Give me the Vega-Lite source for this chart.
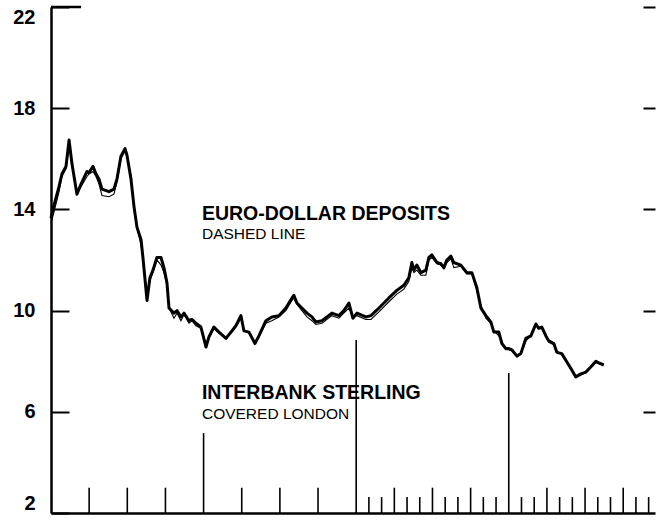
{
  "$schema": "https://vega.github.io/schema/vega-lite/v6.json",
  "width": 604,
  "height": 506,
  "autosize": "none",
  "padding": {"left": 51, "top": 7, "right": 2, "bottom": 9},
  "background": "white",
  "config": {"view": {"stroke": null}, "font": "Liberation Sans"},
  "datasets": {
    "rates": [
      {"t":0,"sterling":13.66,"eurodollar":13.45},
      {"t":0.24,"sterling":14.17,"eurodollar":13.9},
      {"t":0.63,"sterling":14.9,"eurodollar":14.7},
      {"t":0.86,"sterling":15.4,"eurodollar":15.3},
      {"t":1.18,"sterling":15.7,"eurodollar":15.6},
      {"t":1.42,"sterling":16.74,"eurodollar":16.5},
      {"t":1.65,"sterling":15.8,"eurodollar":15.8},
      {"t":2.04,"sterling":14.6,"eurodollar":14.7},
      {"t":2.36,"sterling":15.0,"eurodollar":14.9},
      {"t":2.83,"sterling":15.5,"eurodollar":15.3},
      {"t":2.99,"sterling":15.45,"eurodollar":15.4},
      {"t":3.30,"sterling":15.7,"eurodollar":15.5},
      {"t":3.54,"sterling":15.4,"eurodollar":15.3},
      {"t":3.77,"sterling":15.2,"eurodollar":15.0},
      {"t":4.01,"sterling":14.8,"eurodollar":14.55},
      {"t":4.56,"sterling":14.7,"eurodollar":14.5},
      {"t":4.95,"sterling":14.8,"eurodollar":14.6},
      {"t":5.19,"sterling":15.2,"eurodollar":15.1},
      {"t":5.50,"sterling":16.1,"eurodollar":16.0},
      {"t":5.82,"sterling":16.4,"eurodollar":16.3},
      {"t":5.97,"sterling":16.15,"eurodollar":16.2},
      {"t":6.29,"sterling":15.2,"eurodollar":15.3},
      {"t":6.53,"sterling":14.1,"eurodollar":14.1},
      {"t":6.76,"sterling":13.3,"eurodollar":13.3},
      {"t":7.08,"sterling":12.8,"eurodollar":12.6},
      {"t":7.23,"sterling":12.1,"eurodollar":12.1},
      {"t":7.55,"sterling":10.4,"eurodollar":10.6},
      {"t":7.78,"sterling":11.3,"eurodollar":11.2},
      {"t":8.02,"sterling":11.6,"eurodollar":11.5},
      {"t":8.33,"sterling":12.1,"eurodollar":12.0},
      {"t":8.65,"sterling":12.1,"eurodollar":11.8},
      {"t":8.88,"sterling":11.7,"eurodollar":11.5},
      {"t":9.12,"sterling":11.1,"eurodollar":11.0},
      {"t":9.28,"sterling":10.1,"eurodollar":10.1},
      {"t":9.67,"sterling":9.9,"eurodollar":9.7},
      {"t":9.91,"sterling":10.0,"eurodollar":9.9},
      {"t":10.22,"sterling":9.75,"eurodollar":9.6},
      {"t":10.46,"sterling":9.9,"eurodollar":9.85},
      {"t":10.85,"sterling":9.6,"eurodollar":9.5},
      {"t":11.08,"sterling":9.65,"eurodollar":9.6},
      {"t":11.40,"sterling":9.5,"eurodollar":9.4},
      {"t":11.79,"sterling":9.35,"eurodollar":9.3},
      {"t":12.19,"sterling":8.56,"eurodollar":8.7},
      {"t":12.42,"sterling":8.96,"eurodollar":8.9},
      {"t":12.81,"sterling":9.35,"eurodollar":9.3},
      {"t":13.21,"sterling":9.15,"eurodollar":9.1},
      {"t":13.76,"sterling":8.9,"eurodollar":8.95},
      {"t":14.15,"sterling":9.15,"eurodollar":9.1},
      {"t":14.54,"sterling":9.4,"eurodollar":9.35},
      {"t":14.94,"sterling":9.8,"eurodollar":9.7},
      {"t":15.17,"sterling":9.2,"eurodollar":9.25},
      {"t":15.57,"sterling":9.15,"eurodollar":9.1},
      {"t":16.04,"sterling":8.7,"eurodollar":8.75},
      {"t":16.35,"sterling":9.0,"eurodollar":8.95},
      {"t":16.90,"sterling":9.6,"eurodollar":9.5},
      {"t":17.37,"sterling":9.75,"eurodollar":9.6},
      {"t":17.92,"sterling":9.8,"eurodollar":9.75},
      {"t":18.47,"sterling":10.1,"eurodollar":10.0},
      {"t":18.95,"sterling":10.5,"eurodollar":10.4},
      {"t":19.10,"sterling":10.6,"eurodollar":10.5},
      {"t":19.34,"sterling":10.3,"eurodollar":10.25},
      {"t":19.73,"sterling":10.1,"eurodollar":10.0},
      {"t":20.13,"sterling":9.9,"eurodollar":9.75},
      {"t":20.52,"sterling":9.75,"eurodollar":9.6},
      {"t":20.83,"sterling":9.55,"eurodollar":9.45},
      {"t":21.31,"sterling":9.6,"eurodollar":9.5},
      {"t":22.09,"sterling":9.9,"eurodollar":9.8},
      {"t":22.64,"sterling":9.8,"eurodollar":9.7},
      {"t":23.03,"sterling":10.0,"eurodollar":9.9},
      {"t":23.43,"sterling":10.3,"eurodollar":10.1},
      {"t":23.74,"sterling":9.7,"eurodollar":9.75},
      {"t":24.06,"sterling":9.9,"eurodollar":9.8},
      {"t":24.76,"sterling":9.75,"eurodollar":9.65},
      {"t":25.16,"sterling":9.8,"eurodollar":9.65},
      {"t":25.79,"sterling":10.1,"eurodollar":9.95},
      {"t":26.57,"sterling":10.5,"eurodollar":10.35},
      {"t":27.20,"sterling":10.8,"eurodollar":10.65},
      {"t":27.75,"sterling":11.0,"eurodollar":10.85},
      {"t":28.14,"sterling":11.3,"eurodollar":11.15},
      {"t":28.38,"sterling":11.9,"eurodollar":11.7},
      {"t":28.54,"sterling":11.6,"eurodollar":11.5},
      {"t":28.77,"sterling":11.8,"eurodollar":11.6},
      {"t":29.09,"sterling":11.5,"eurodollar":11.4},
      {"t":29.48,"sterling":11.6,"eurodollar":11.4},
      {"t":29.72,"sterling":12.1,"eurodollar":12.0},
      {"t":29.95,"sterling":12.2,"eurodollar":12.1},
      {"t":30.35,"sterling":11.9,"eurodollar":11.85},
      {"t":30.66,"sterling":11.85,"eurodollar":11.8},
      {"t":30.90,"sterling":11.7,"eurodollar":11.65},
      {"t":31.13,"sterling":12.0,"eurodollar":11.9},
      {"t":31.45,"sterling":12.15,"eurodollar":12.05},
      {"t":31.68,"sterling":11.9,"eurodollar":11.7},
      {"t":32.23,"sterling":11.8,"eurodollar":11.75},
      {"t":32.70,"sterling":11.5,"eurodollar":11.45},
      {"t":33.10,"sterling":11.5,"eurodollar":11.45},
      {"t":33.49,"sterling":10.9,"eurodollar":10.8},
      {"t":33.81,"sterling":10.1,"eurodollar":10.2},
      {"t":34.20,"sterling":9.8,"eurodollar":9.7},
      {"t":34.59,"sterling":9.55,"eurodollar":9.5},
      {"t":34.83,"sterling":9.15,"eurodollar":9.2},
      {"t":35.22,"sterling":9.15,"eurodollar":9.0},
      {"t":35.46,"sterling":8.7,"eurodollar":8.7},
      {"t":35.77,"sterling":8.5,"eurodollar":8.45},
      {"t":36.01,"sterling":8.5,"eurodollar":8.45},
      {"t":36.24,"sterling":8.45,"eurodollar":8.4},
      {"t":36.64,"sterling":8.2,"eurodollar":8.25},
      {"t":36.95,"sterling":8.3,"eurodollar":8.3},
      {"t":37.34,"sterling":8.9,"eurodollar":8.8},
      {"t":37.74,"sterling":9.0,"eurodollar":9.0},
      {"t":38.13,"sterling":9.47,"eurodollar":9.4},
      {"t":38.36,"sterling":9.3,"eurodollar":9.3},
      {"t":38.60,"sterling":9.35,"eurodollar":9.3},
      {"t":38.92,"sterling":9.0,"eurodollar":9.0},
      {"t":39.15,"sterling":8.8,"eurodollar":8.75},
      {"t":39.54,"sterling":8.7,"eurodollar":8.65},
      {"t":39.78,"sterling":8.35,"eurodollar":8.4},
      {"t":40.17,"sterling":8.3,"eurodollar":8.25},
      {"t":40.57,"sterling":7.97,"eurodollar":7.95},
      {"t":40.96,"sterling":7.65,"eurodollar":7.6},
      {"t":41.27,"sterling":7.38,"eurodollar":7.4},
      {"t":41.67,"sterling":7.5,"eurodollar":7.45},
      {"t":42.06,"sterling":7.57,"eurodollar":7.55},
      {"t":42.45,"sterling":7.77,"eurodollar":7.75},
      {"t":42.85,"sterling":8.0,"eurodollar":7.95},
      {"t":43.08,"sterling":7.93,"eurodollar":7.9},
      {"t":43.47,"sterling":7.85,"eurodollar":7.85}
    ],
    "timeTicks": [
      {"t":3,"base":2,"top":3.0},{"t":6,"base":2,"top":3.0},{"t":9,"base":2,"top":3.0},{"t":12,"base":2,"top":5.16},
      {"t":15,"base":2,"top":3.0},{"t":18,"base":2,"top":3.0},{"t":21,"base":2,"top":3.0},{"t":24,"base":2,"top":8.84},
      {"t":25,"base":2,"top":2.63},{"t":26,"base":2,"top":2.63},{"t":27,"base":2,"top":3.0},{"t":28,"base":2,"top":2.63},
      {"t":29,"base":2,"top":2.63},{"t":30,"base":2,"top":3.0},{"t":31,"base":2,"top":2.63},{"t":32,"base":2,"top":2.63},
      {"t":33,"base":2,"top":3.0},{"t":34,"base":2,"top":2.63},{"t":35,"base":2,"top":2.63},{"t":36,"base":2,"top":7.53},
      {"t":37,"base":2,"top":2.63},{"t":38,"base":2,"top":2.63},{"t":39,"base":2,"top":3.0},{"t":40,"base":2,"top":2.63},
      {"t":41,"base":2,"top":2.63},{"t":42,"base":2,"top":3.0},{"t":43,"base":2,"top":2.63},{"t":44,"base":2,"top":2.63},
      {"t":45,"base":2,"top":3.0},{"t":46,"base":2,"top":2.63},{"t":47,"base":2,"top":2.63}
    ],
    "topTick": [{"t":0,"t2":2.36,"v":22}],
    "notes": [
      {"t":11.87,"v":13.58,"kind":"head","text":"EURO-DOLLAR DEPOSITS"},
      {"t":11.87,"v":12.84,"kind":"sub","text":"DASHED LINE"},
      {"t":11.87,"v":6.49,"kind":"head","text":"INTERBANK STERLING"},
      {"t":11.87,"v":5.72,"kind":"sub","text":"COVERED LONDON"}
    ]
  },
  "resolve": {"axis": {"y": "independent"}},
  "layer": [
    {
      "data": {"name": "rates"},
      "mark": {"type": "line", "color": "black", "strokeWidth": 3, "strokeJoin": "round"},
      "encoding": {
        "x": {"field": "t", "type": "quantitative", "scale": {"domain": [0, 47.5], "nice": false, "zero": false},
              "axis": {"title": null, "labels": false, "ticks": false, "grid": false, "domainColor": "black", "domainWidth": 2.5}},
        "y": {"field": "sterling", "type": "quantitative", "scale": {"domain": [2, 22], "nice": false, "zero": false},
              "axis": {"title": null, "values": [2, 6, 10, 14, 18, 22], "grid": false, "domainColor": "black", "domainWidth": 2.5,
                       "tickColor": "black", "tickWidth": 2, "tickSize": -18, "labelPadding": 34, "labelFlush": true,
                       "labelFontSize": 20, "labelFontWeight": "bold", "labelColor": "black", "labelFont": "Liberation Sans"}}
      }
    },
    {
      "data": {"name": "rates"},
      "mark": {"type": "line", "color": "black", "strokeWidth": 1.1},
      "encoding": {
        "x": {"field": "t", "type": "quantitative"},
        "y": {"field": "eurodollar", "type": "quantitative",
              "axis": {"orient": "right", "title": null, "values": [6, 10, 14, 18, 22], "domain": false, "labels": false, "grid": false,
                       "tickColor": "black", "tickWidth": 2, "tickSize": -12}}
      }
    },
    {
      "data": {"name": "timeTicks"},
      "mark": {"type": "rule", "color": "black", "strokeWidth": 1.6},
      "encoding": {
        "x": {"field": "t", "type": "quantitative"},
        "y": {"field": "base", "type": "quantitative", "axis": null},
        "y2": {"field": "top"}
      }
    },
    {
      "data": {"name": "topTick"},
      "mark": {"type": "rule", "color": "black", "strokeWidth": 2.5},
      "encoding": {
        "x": {"field": "t", "type": "quantitative"},
        "x2": {"field": "t2"},
        "y": {"field": "v", "type": "quantitative", "axis": null}
      }
    },
    {
      "data": {"name": "notes"},
      "transform": [{"filter": "datum.kind === 'head'"}],
      "mark": {"type": "text", "align": "left", "baseline": "alphabetic", "fontSize": 19.5, "fontWeight": "bold", "font": "Liberation Sans", "color": "black"},
      "encoding": {
        "x": {"field": "t", "type": "quantitative"},
        "y": {"field": "v", "type": "quantitative", "axis": null},
        "text": {"field": "text"}
      }
    },
    {
      "data": {"name": "notes"},
      "transform": [{"filter": "datum.kind === 'sub'"}],
      "mark": {"type": "text", "align": "left", "baseline": "alphabetic", "fontSize": 15.5, "font": "Liberation Sans", "color": "black"},
      "encoding": {
        "x": {"field": "t", "type": "quantitative"},
        "y": {"field": "v", "type": "quantitative", "axis": null},
        "text": {"field": "text"}
      }
    }
  ]
}
